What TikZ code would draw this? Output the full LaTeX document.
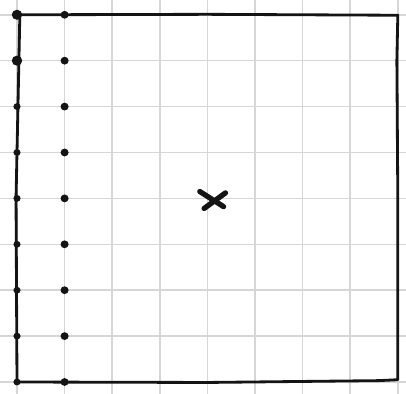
\documentclass[tikz,border=0pt]{standalone}
\usepackage{tikz}
\usetikzlibrary{calc}
\definecolor{gridgray}{HTML}{D6D6D6}
\definecolor{inkdark}{HTML}{141414}
\tikzset{
  gridline/.style={gridgray, line width=0.9pt},
  border/.style={inkdark, line width=1.6pt, line cap=round, line join=round},
  bigdot/.style={fill=inkdark},
  cross/.style={inkdark, line width=3pt, line cap=round},
}

\begin{document}
\begin{tikzpicture}[x=0.952cm,y=0.918cm]
  \useasboundingbox (-0.357,-0.261) rectangle (8.172,8.322);
  % paper grid
  \foreach \i in {0,...,8} {
    \draw[gridline] (\i,-0.261) -- (\i,8.322);
    \draw[gridline] (-0.357,\i) -- (8.172,\i);
  }
  % hand-drawn frame
  \draw[border] (0.06,8.0) -- (4,8.01) -- (8.0,7.99) -- (7.98,7.0) -- (8.0,4) -- (8.0,0.05)
    -- (7.6,0.03) -- (4,-0.01) -- (0,0.0) -- (-0.02,4) -- (0.06,8.0);
  % dots down the first two columns
  \foreach \r in {0,...,8} {
    \fill[bigdot] (0,\r) circle (0.075);
    \fill[bigdot] (1,\r) circle (0.085);
  }
  \fill[bigdot] (0,8) circle (0.11);
  \fill[bigdot] (0,7) circle (0.11);
  % the mark in the middle
  \draw[cross] (3.84,4.15) -- (4.34,3.82);
  \draw[cross] (3.93,3.78) -- (4.38,4.12);
\end{tikzpicture}
\end{document}
